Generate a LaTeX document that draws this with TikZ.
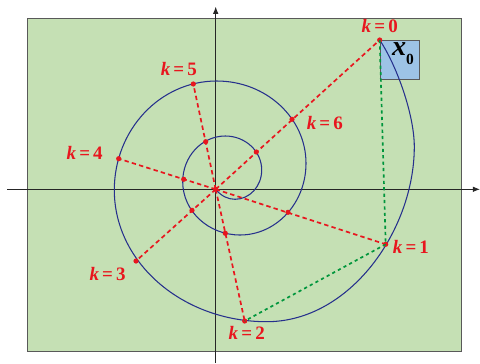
\documentclass[tikz,border=0pt]{standalone}
\usepackage{fontspec}
\setmainfont{Liberation Serif}
\usetikzlibrary{arrows.meta,positioning}
\definecolor{bgGreen}{RGB}{197,224,180}
\definecolor{boxBlue}{RGB}{157,195,230}
\definecolor{spiralBlue}{RGB}{38,48,140}
\definecolor{dotRed}{RGB}{232,22,30}
\definecolor{stepGreen}{RGB}{0,150,60}
\tikzstyle{rdot}=[circle,fill=dotRed,inner sep=0pt,minimum size=1.3mm]
\tikzstyle{klab}=[text=dotRed,inner sep=0pt,font=\fontsize{13.5}{15}\selectfont\bfseries]
\tikzstyle{ray}=[draw=dotRed,line width=1.2pt,dash pattern=on 1.1mm off 0.8mm]
\tikzstyle{chord}=[draw=stepGreen,line width=1.2pt,dash pattern=on 0.8mm off 0.8mm]
\tikzstyle{axisline}=[draw=black!85,line width=0.6pt,-{Latex[length=1.8mm,width=1.4mm]}]
\tikzstyle{xbox}=[rectangle,draw=black!65,fill=boxBlue,line width=0.6pt,minimum width=9.8mm,minimum height=9.75mm,inner sep=0pt]
\newcommand{\kval}[1]{\textit{k}\,=\,#1}

\begin{document}
\begin{tikzpicture}[x=0.025cm,y=-0.025cm]
\useasboundingbox (0,0) rectangle (480,363);
% panel
\draw[fill=bgGreen,draw=black!65,line width=0.6pt] (27,18.3) rectangle (461,351.7);
% axes
\coordinate (xl) at (7,189.3);
\coordinate (xr) at (480,189.3);
\coordinate (yb) at (215.7,363);
\coordinate (yt) at (215.7,6.7);
\draw[axisline] (xl) -- (xr);
\draw[axisline] (yb) -- (yt);
% initial state
\node[xbox,anchor=north west] (box) at (379.7,40) {};
\node[inner sep=0pt] (x0) at (403,53.5) {\fontsize{20}{22}\selectfont\textbf{\textit{x}}\raisebox{-6pt}{\fontsize{11}{12}\selectfont\textbf{0}}};
% spiral, quarter by quarter
\draw[spiralBlue,line width=0.75pt] (215.7,189.3)
  .. controls (221,196) and (228,199.3) .. (235,199.3)
  .. controls (249.7,199.3) and (261.7,186.2) .. (261.7,170)
  .. controls (261.7,151.2) and (245.4,136) .. (225.3,136)
  .. controls (201.8,136) and (182.7,156.5) .. (182.7,181.7)
  .. controls (182.7,211.1) and (208.4,235) .. (240,235)
  .. controls (276.5,235) and (306,202.9) .. (306,163.3)
  .. controls (306,117.8) and (266,81) .. (216.7,81)
  .. controls (160.1,81) and (114.3,129.8) .. (114.3,190)
  .. controls (114.3,262.7) and (182.5,321.7) .. (266.7,321.7)
  .. controls (350,321.7) and (414.3,230) .. (414.3,146.7)
  .. controls (414.3,115) and (397,66) .. (379.7,40);
% points
\node[rdot] (O) at (215.7,189.3) {};
\node[rdot] (p0) at (379.7,40) {};
\node[rdot] (p1) at (385.7,244.3) {};
\node[rdot] (p2) at (244.7,321) {};
\node[rdot] (p3) at (136,261) {};
\node[rdot] (p4) at (118.7,158.7) {};
\node[rdot] (p5) at (193.3,84) {};
\node[rdot] (p6) at (292,119.3) {};
\node[rdot] (q0) at (256.3,152) {};
\node[rdot] (q1) at (288,212.3) {};
\node[rdot] (q2) at (225.3,233.3) {};
\node[rdot] (q3) at (192,210.3) {};
\node[rdot] (q4) at (183.7,179.3) {};
\node[rdot] (q5) at (205.7,141.7) {};
% rays and steps
\foreach \i in {0,...,5}
  \draw[ray] (O.center) -- (p\i.center);
\draw[chord] (p0.center) -- (p1.center);
\draw[chord] (p1.center) -- (p2.center);
% labels
\node[klab,above=1mm of p0] (k0) {\kval{0}};
\node[klab,right=1mm of p1,yshift=-0.6mm] (k1) {\kval{1}};
\node[klab,below=0.6mm of p2,xshift=0.5mm] (k2) {\kval{2}};
\node[klab,below left=1mm and 2mm of p3] (k3) {\kval{3}};
\node[klab,left=3.2mm of p4,yshift=1.4mm] (k4) {\kval{4}};
\node[klab,above=1.2mm of p5,xshift=-3.6mm] (k5) {\kval{5}};
\node[klab,right=2.9mm of p6,yshift=-1mm] (k6) {\kval{6}};
\end{tikzpicture}
\end{document}
